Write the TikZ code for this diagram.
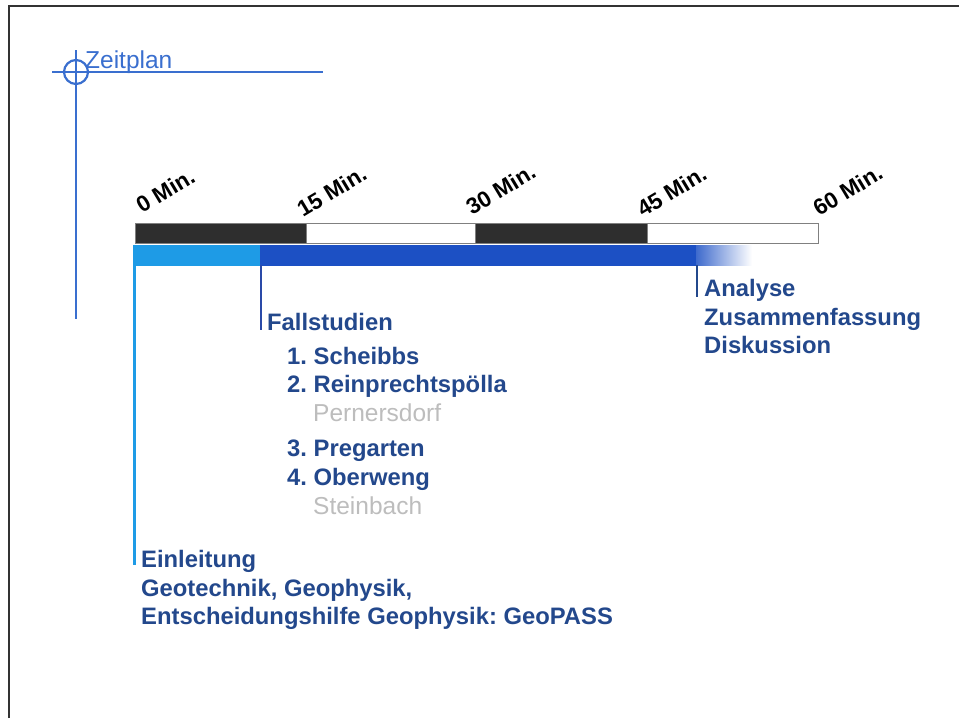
\documentclass[tikz,border=0pt]{standalone}
\usepackage{fontspec}
\setmainfont{Liberation Sans}
\frenchspacing
\definecolor{navy}{HTML}{23488C}
\definecolor{zblue}{HTML}{3A6FCF}
\definecolor{lblue}{HTML}{1E9BE6}
\definecolor{dblue}{HTML}{1C50C4}
\definecolor{lineblue}{HTML}{2A4AA8}
\definecolor{barblack}{HTML}{2E2E2E}
\definecolor{graytext}{HTML}{BDBDBD}
\begin{document}
\begin{tikzpicture}[x=1pt,y=-1pt,
  txt/.style={inner sep=0pt, anchor=base west, text=navy, font=\fontsize{23.8}{28}\selectfont\bfseries},
  subtxt/.style={inner sep=0pt, anchor=base west, text=graytext, font=\fontsize{24.5}{28}\selectfont},
  ticklbl/.style={inner sep=0pt, anchor=base west, rotate=31, text=black, font=\fontsize{22.5}{26}\selectfont\bfseries},
  darkseg/.style={fill=barblack, draw=gray, line width=0.8},
  lightseg/.style={fill=white, draw=gray, line width=0.8},
  cross/.style={draw=zblue, line width=2.2}]
\useasboundingbox (0,0) rectangle (959,718);
\fill[white] (0,0) rectangle (959,718);
% frame
\draw[black!80, line width=1.5] (9,718) -- (9,6) -- (959,6);
% Zeitplan crosshair
\coordinate (hL) at (52,72);
\coordinate (hR) at (323,72);
\coordinate (vT) at (76,50);
\coordinate (vB) at (76,319);
\coordinate (cc) at (76,72);
\draw[cross] (hL) -- (hR);
\draw[cross] (vT) -- (vB);
\draw[cross] (cc) circle[radius=12];
\node[inner sep=0pt, anchor=base west, text=zblue, font=\fontsize{24.5}{28}\selectfont] (zeit) at (85,68) {Zeitplan};
% time scale bar
\path[darkseg] (135,223.5) rectangle (306,243.5);
\path[lightseg] (306,223.5) rectangle (475,243.5);
\path[darkseg] (475,223.5) rectangle (647,243.5);
\path[lightseg] (647,223.5) rectangle (818,243.5);
% tick labels
\node[ticklbl] (t0) at (142,214) {0 Min.};
\node[ticklbl] (t15) at (303,218) {15 Min.};
\node[ticklbl] (t30) at (472,216) {30 Min.};
\node[ticklbl] (t45) at (643,218) {45 Min.};
\node[ticklbl] (t60) at (819,217) {60 Min.};
% blue phase bar
\fill[lblue] (135,245) rectangle (260,265.5);
\fill[dblue] (260,245) rectangle (696,265.5);
\shade[left color=dblue!85, right color=white] (696,245) rectangle (752,265.5);
% phase markers
\coordinate (einTop) at (134.5,245);
\coordinate (einBot) at (134.5,565);
\coordinate (fallTop) at (260.5,265);
\coordinate (fallBot) at (260.5,330);
\coordinate (anTop) at (696.5,265);
\coordinate (anBot) at (696.5,297);
\draw[lblue, line width=2.5] (einTop) -- (einBot);
\draw[lineblue, line width=2] (fallTop) -- (fallBot);
\draw[navy, line width=2] (anTop) -- (anBot);
% texts
\node[txt] (an) at (704,296.5) {Analyse};
\node[txt] (zus) at (704,325) {Zusammenfassung};
\node[txt] (dis) at (704,353.5) {Diskussion};
\node[txt] (fall) at (267,330) {Fallstudien};
\node[txt] (f1) at (287,364) {1. Scheibbs};
\node[txt] (f2) at (287,392.5) {2. Reinprechtspölla};
\node[subtxt] (f2b) at (313,421.5) {Pernersdorf};
\node[txt] (f3) at (287,456.5) {3. Pregarten};
\node[txt] (f4) at (287,485.5) {4. Oberweng};
\node[subtxt] (f4b) at (313,514.5) {Steinbach};
\node[txt] (ein) at (141,567.5) {Einleitung};
\node[txt] (geo) at (141,596) {Geotechnik, Geophysik,};
\node[txt] (ent) at (141,624.5) {Entscheidungshilfe Geophysik: GeoPASS};
\end{tikzpicture}
\end{document}
